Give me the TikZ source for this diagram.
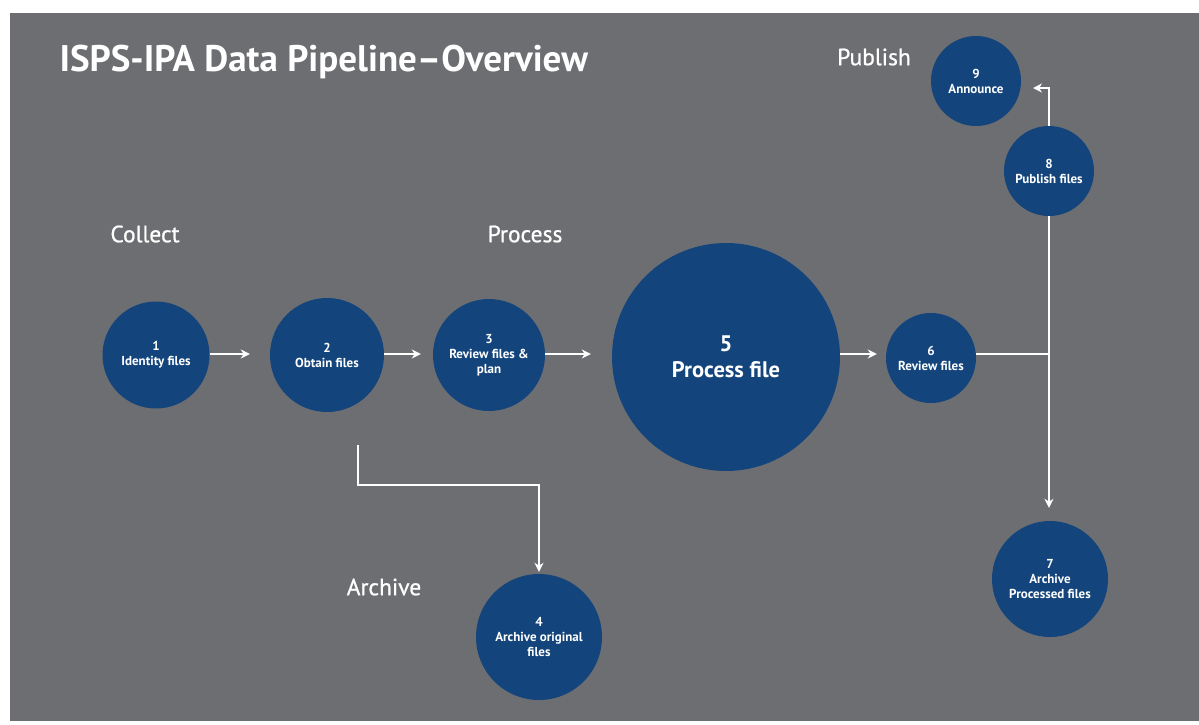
\documentclass[tikz,border=0pt]{standalone}
\usepackage{fontspec}
\setmainfont{PT Sans}
\newfontfamily\medfont[FakeBold=0.8]{PT Sans}
\usetikzlibrary{arrows.meta}
\definecolor{bg}{HTML}{6D6E72}
\definecolor{circ}{HTML}{13457C}
\begin{document}
\begin{tikzpicture}[x=1pt,y=-1pt,
 stage/.style={circle, fill=circ, text=white, font=\bfseries\fontsize{13}{15}\selectfont, align=center, inner sep=0pt},
 bigstage/.style={stage, font=\bfseries\fontsize{22.5}{26}\selectfont},
 conn/.style={draw=white, line width=2pt, -{Stealth[length=9pt,width=9pt]}},
 plain/.style={draw=white, line width=2pt},
 phase/.style={text=white, font=\medfont\fontsize{23.5}{26}\selectfont},
 heading/.style={text=white, font=\bfseries\fontsize{37}{40}\selectfont, anchor=west}]
\fill[white] (0,0) rectangle (1199,724);
\useasboundingbox (0,0) rectangle (1199,724);
\fill[bg] (10,13) rectangle (1199,721);

\node[heading] (title) at (56,62) {ISPS-IPA Data Pipeline–Overview};

\node[phase] (collect) at (145,234) {Collect};
\node[phase] (process) at (525,234) {Process};
\node[phase] (publish) at (874,57) {Publish};
\node[phase] (archive) at (384,587) {Archive};

\node[stage, minimum size=107pt] (n1) at (156,355) {1\\Identity files};
\node[stage, minimum size=114pt] (n2) at (327,355) {2\\Obtain files};
\node[stage, minimum size=112pt] (n3) at (489,355) {3\\Review files \&\\plan};
\node[stage, minimum size=126pt] (n4) at (539,637) {4\\Archive original\\files};
\node[bigstage, minimum size=228pt] (n5) at (726,357) {5\\Process file};
\node[stage, minimum size=90pt] (n6) at (931,358) {6\\Review files};
\node[stage, minimum size=116pt] (n7) at (1050,579) {7\\Archive\\Processed files};
\node[stage, minimum size=90pt] (n8) at (1049,171) {8\\Publish files};
\node[stage, minimum size=90pt] (n9) at (976,81) {9\\Announce};

\coordinate (y1) at (0,354);
\draw[conn, shorten >=20pt] (n1.east |- y1) -- (n2.west |- y1);
\draw[conn, shorten >=12pt] (n2.east |- y1) -- (n3.west |- y1);
\draw[conn, shorten >=21pt] (n3.east |- y1) -- (n5.west |- y1);
\draw[conn, shorten >=9pt] (n5.east |- y1) -- (n6.west |- y1);

\coordinate (j) at (1049,354);
\draw[plain] (n6.east |- j) -- (j);
\draw[conn, shorten >=13pt] (n8.south) -- (n7.north -| n8.south);

\coordinate (t9) at (1033,88);
\draw[conn] (n8.north) |- (t9);

\coordinate (s4) at (358,445);
\coordinate (b4) at (358,485);
\draw[conn, shorten >=2pt] (s4) -- (b4) -| (n4.north);
\end{tikzpicture}
\end{document}
